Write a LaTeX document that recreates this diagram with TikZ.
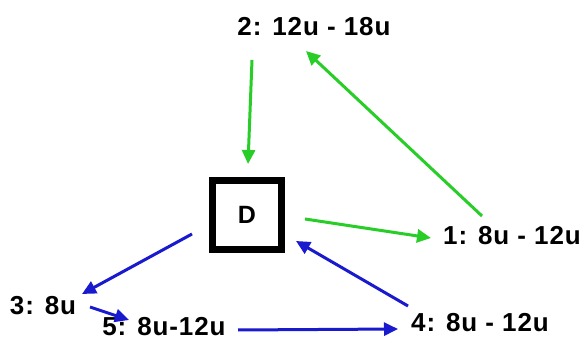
\documentclass[tikz,border=0pt]{standalone}
\usepackage{fontspec}
\setmainfont{Liberation Sans}
\usetikzlibrary{arrows.meta}
\definecolor{flowgreen}{RGB}{40,205,40}
\definecolor{flowblue}{RGB}{25,25,205}
\tikzset{
  lbl/.style={font=\bfseries\fontsize{26}{29}\selectfont\addfontfeature{LetterSpace=3.5}, inner sep=0pt, anchor=center},
  conn/.style={line width=3pt, -{Triangle[length=14pt,width=13pt]}},
  gconn/.style={conn, draw=flowgreen, fill=flowgreen},
  bconn/.style={conn, draw=flowblue, fill=flowblue},
  dbox/.style={draw, line width=7pt, minimum size=69pt, inner sep=0pt, font=\bfseries\fontsize{25}{28}\selectfont}
}
\begin{document}
\begin{tikzpicture}[x=1pt,y=1pt]
  \useasboundingbox (0,0) rectangle (585,342);
  % central store
  \node[dbox] (D) at (247,127) {D};
  % labelled states
  \node[lbl] (n2) at (314,315) {2: 12u - 18u};
  \node[lbl] (n1) at (512,106) {1: 8u - 12u};
  \node[lbl] (n4) at (480,19) {4: 8u - 12u};
  \node[lbl] (n3) at (43,36) {3: 8u};
  \node[lbl] (n5) at (164,15) {5: 8u-12u};
  % connector end points
  \coordinate (n2s) at (252,282);
  \coordinate (Din2) at (248,178);
  \coordinate (n1s) at (482,126);
  \coordinate (n2in) at (306,291);
  \coordinate (Dout1) at (305,123);
  \coordinate (n1in) at (431,104);
  \coordinate (n4s) at (408,36);
  \coordinate (Din4) at (296,101);
  \coordinate (Dout3) at (192,108);
  \coordinate (n3in) at (82,48);
  \coordinate (n3s) at (90,35);
  \coordinate (n5in) at (129,22);
  \coordinate (n5s) at (238,12);
  \coordinate (n4in) at (398,13);
  % green flows
  \draw[gconn] (n2s) -- (Din2);
  \draw[gconn] (n1s) -- (n2in);
  \draw[gconn] (Dout1) -- (n1in);
  % blue flows
  \draw[bconn] (n4s) -- (Din4);
  \draw[bconn] (Dout3) -- (n3in);
  \draw[bconn] (n3s) -- (n5in);
  \draw[bconn] (n5s) -- (n4in);
\end{tikzpicture}
\end{document}
